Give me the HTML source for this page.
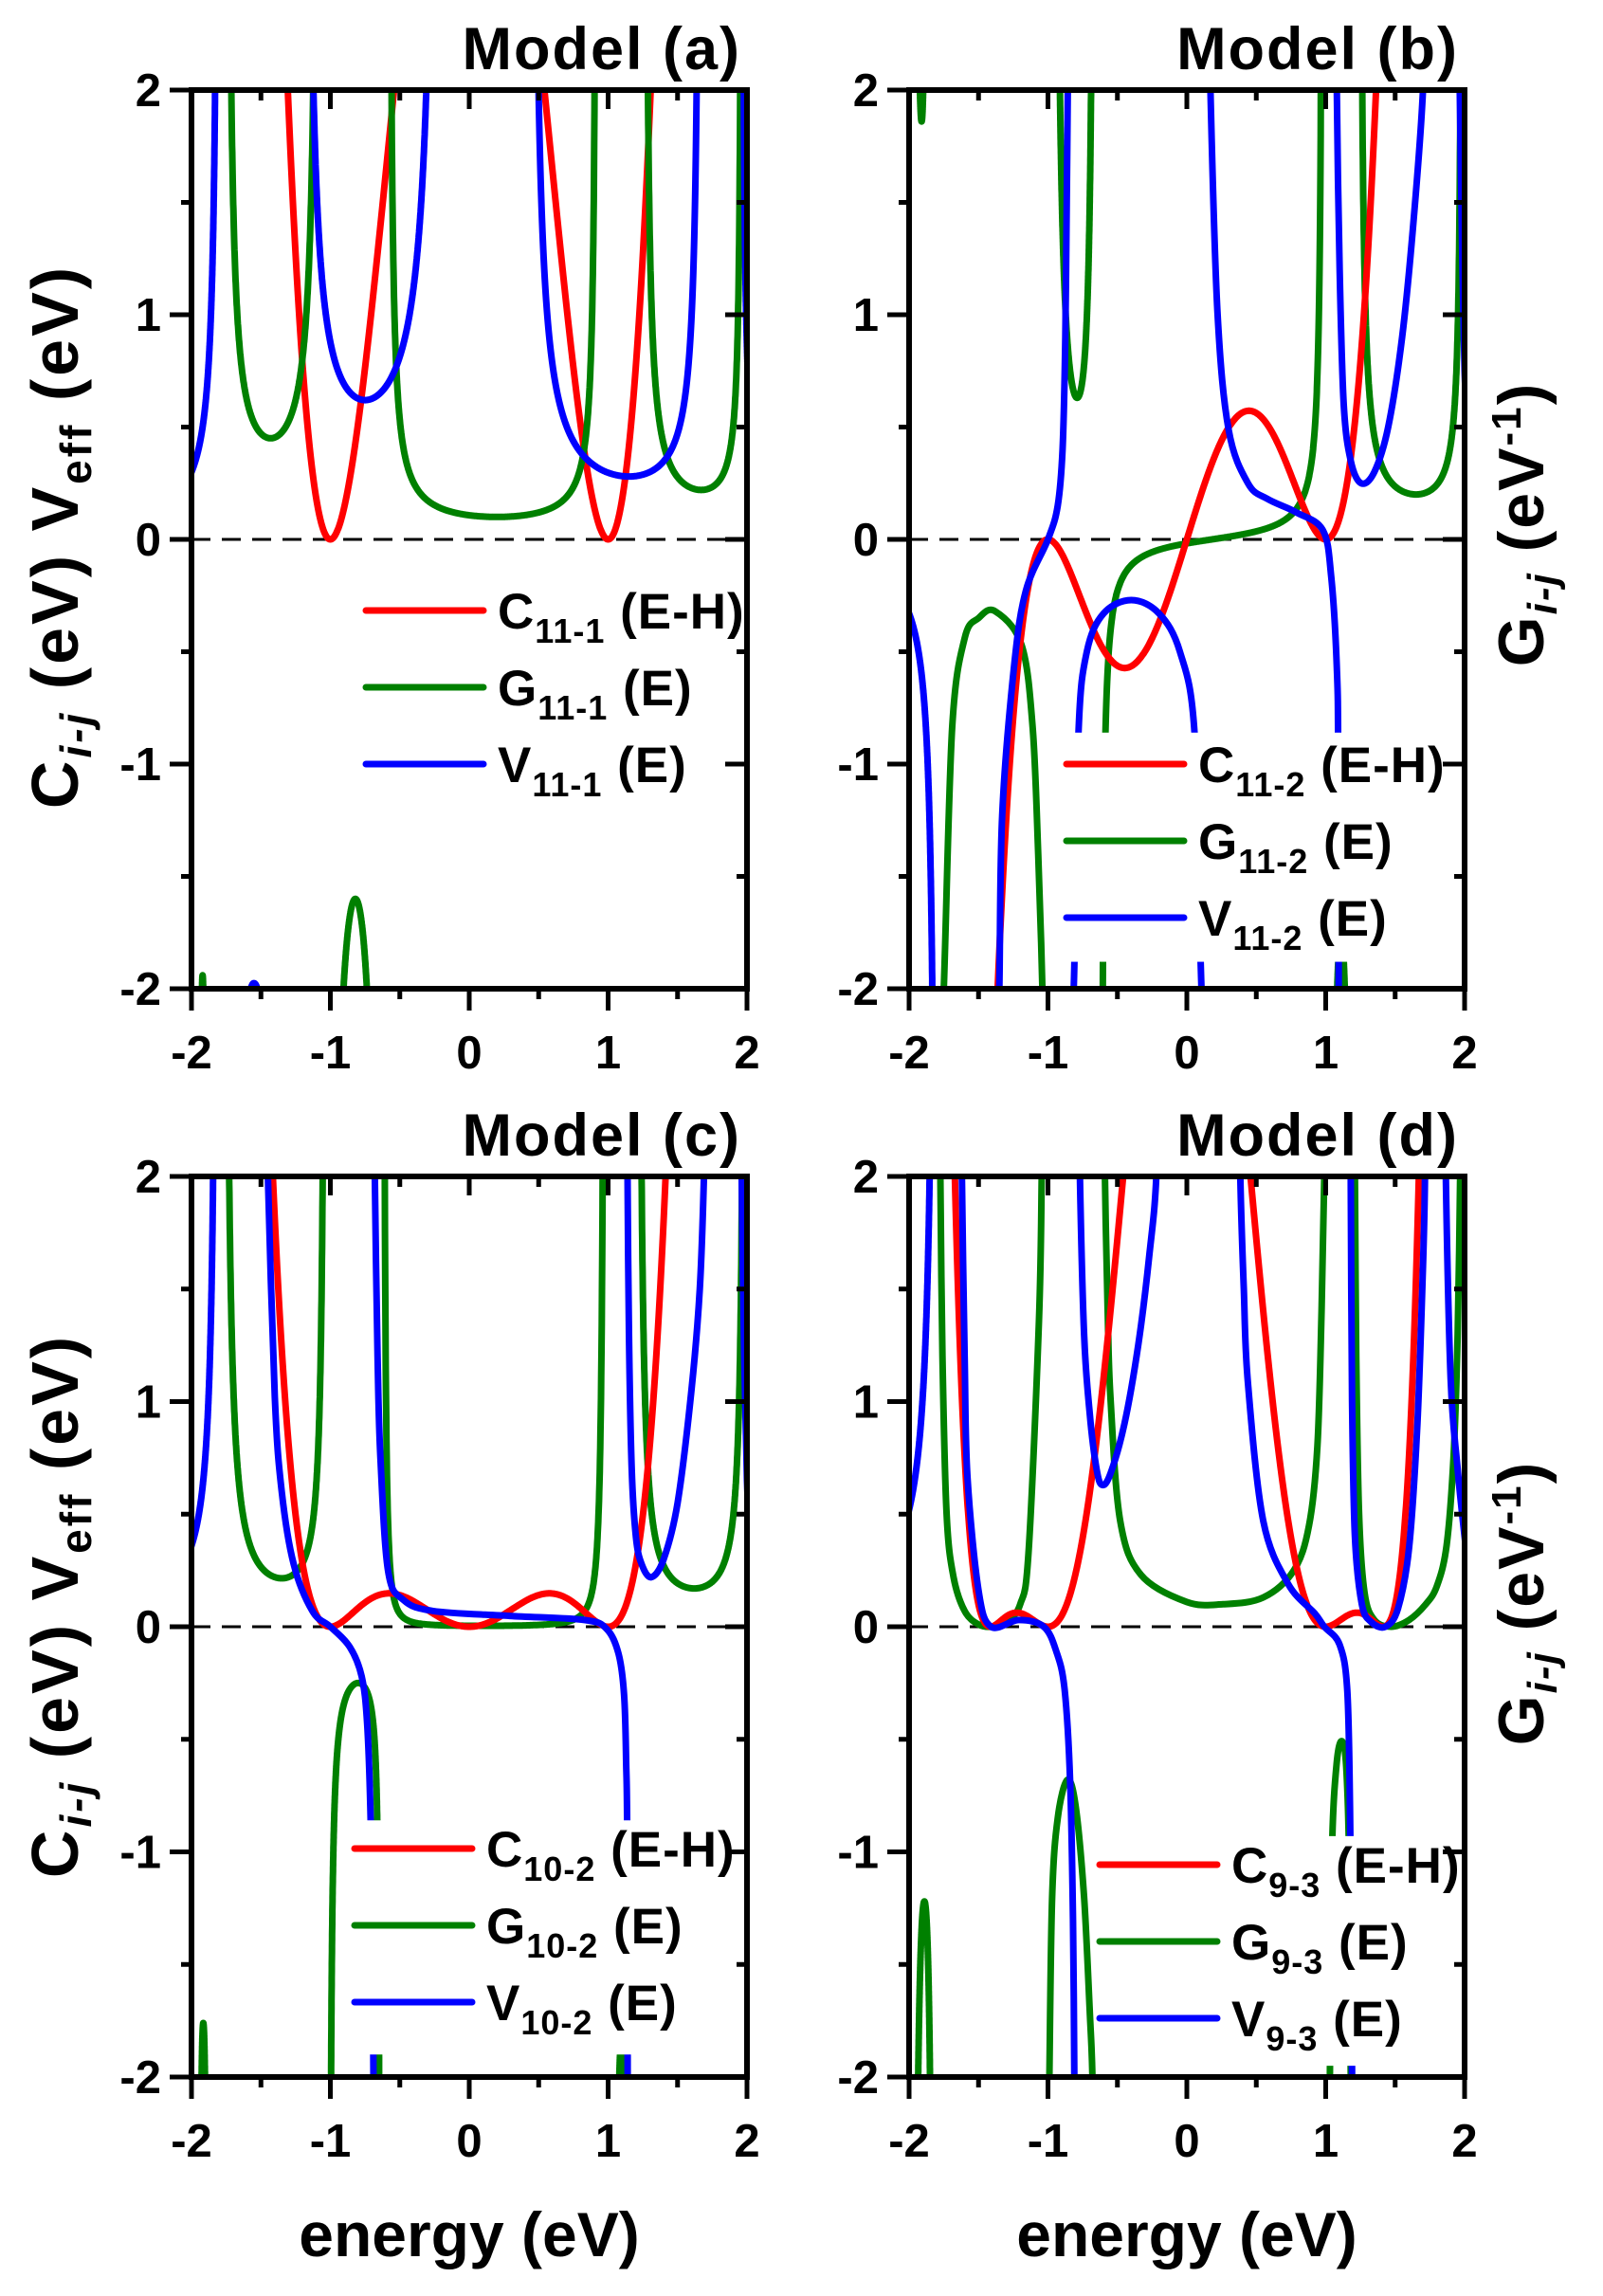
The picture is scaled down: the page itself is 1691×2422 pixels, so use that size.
<!DOCTYPE html>
<html><head><meta charset="utf-8"><style>
html,body{margin:0;padding:0;background:#fff}
svg{display:block}
text{font-family:"Liberation Sans",Arial,sans-serif;font-weight:bold;fill:#000}
</style></head><body>
<svg id="s" width="1691" height="2422" viewBox="0 0 1691 2422" xmlns="http://www.w3.org/2000/svg">
<rect width="1691" height="2422" fill="#fff"/>
</svg>
<script>
const S=document.getElementById('s');const NS='http://www.w3.org/2000/svg';
function el(t,a,p){const e=document.createElementNS(NS,t);for(const k in a)e.setAttribute(k,a[k]);(p||S).appendChild(e);return e;}
function clamp(y){return Math.max(-3,Math.min(3,y));}
function seg(p1,p2,m,x0,n){n=n||1;const a=Math.pow(x0-p1,n+1),b=Math.pow(p2-x0,n+1);const pts=[];const N=900;
 for(let i=1;i<N;i++){const t=i/N;const x=p1+(p2-p1)*t;const y=m*(a/Math.pow(x-p1,n)+b/Math.pow(p2-x,n))/(p2-p1);pts.push([x,clamp(y)]);}return {pts:pts};}
function edgeL(p,v){const pts=[];for(let i=0;i<=600;i++){const x=-2.05+(p+2.05)*i/600;if(x>=p)break;pts.push([x,clamp(v*(p+2)/(p-x))]);}return {pts:pts};}
function edgeR(p,v){const pts=[];for(let i=1;i<=600;i++){const x=p+(2.05-p)*i/600;pts.push([x,clamp(v*(2-p)/(x-p))]);}return {pts:pts};}
function fn(f,a,b){const pts=[];a=a===undefined?-2.05:a;b=b===undefined?2.05:b;for(let i=0;i<=1200;i++){const x=a+(b-a)*i/1200;pts.push([x,clamp(f(x))]);}return {pts:pts};}
function sp(arr){return {spline:arr};}
const COL={r:'#ff0000',g:'#008000',b:'#0000ff'};
function panel(P){
 const L=P.L,R=P.R,T=P.T,B=P.B;const X=x=>L+(x+2)/4*(R-L),Y=y=>T+(2-y)/4*(B-T);
 const id='c'+P.id;const cp=el('clipPath',{id:id});el('rect',{x:L,y:T,width:R-L,height:B-T},cp);
 const g=el('g',{'clip-path':'url(#'+id+')'});
 el('line',{x1:L,y1:Y(0),x2:R,y2:Y(0),stroke:'#000','stroke-width':3,'stroke-dasharray':'20,12'},g);
 for(const c of P.curves){let d='';
  if(c.pts){d=c.pts.map((p,i)=>(i?'L':'M')+X(p[0]).toFixed(1)+' '+Y(p[1]).toFixed(1)).join('');}
  else{const q=c.spline.map(p=>[X(p[0]),Y(p[1])]);d='M'+q[0][0]+' '+q[0][1];
   for(let i=0;i<q.length-1;i++){const p0=q[Math.max(0,i-1)],p1=q[i],p2=q[i+1],p3=q[Math.min(q.length-1,i+2)];
    d+='C'+(p1[0]+(p2[0]-p0[0])/6).toFixed(1)+' '+(p1[1]+(p2[1]-p0[1])/6).toFixed(1)+' '+(p2[0]-(p3[0]-p1[0])/6).toFixed(1)+' '+(p2[1]-(p3[1]-p1[1])/6).toFixed(1)+' '+p2[0].toFixed(1)+' '+p2[1].toFixed(1);}}
  el('path',{d:d,fill:'none',stroke:COL[c.c],'stroke-width':7,'stroke-linejoin':'round'},g);}
 const lg=P.leg;
 el('rect',{x:X(lg.box[0]),y:Y(lg.box[2]),width:X(lg.box[1])-X(lg.box[0]),height:Y(lg.box[3])-Y(lg.box[2]),fill:'#fff'},g);
 el('rect',{x:L,y:T,width:R-L,height:B-T,fill:'none',stroke:'#000','stroke-width':6});
 for(let k=0;k<=8;k++){const v=-2+k*0.5;const maj=k%2==0;const xx=X(v),yy=Y(v);
  el('line',{x1:xx,y1:B,x2:xx,y2:B+(maj?23:11),stroke:'#000','stroke-width':5});
  el('line',{x1:xx,y1:T,x2:xx,y2:T+(maj?20:11),stroke:'#000','stroke-width':5});
  el('line',{x1:L,y1:yy,x2:L-(maj?23:11),y2:yy,stroke:'#000','stroke-width':5});
  el('line',{x1:R,y1:yy,x2:R-(maj?23:11),y2:yy,stroke:'#000','stroke-width':5});
  if(maj){const s=String(v);
   const tx=el('text',{x:xx,y:B+84,'font-size':49,'text-anchor':'middle'});tx.textContent=s;
   const ty=el('text',{x:L-32,y:yy+17,'font-size':49,'text-anchor':'end'});ty.textContent=s;}}
 const tt=el('text',{x:R-6,y:T-22,'font-size':63,'text-anchor':'end','letter-spacing':2});tt.textContent=P.title;
 const names=[['C',' (E-H)','r'],['G',' (E)','g'],['V',' (E)','b']];
 for(let i=0;i<3;i++){const yy=lg.y0+i*81;
  el('line',{x1:lg.x0,y1:yy,x2:lg.x0+124,y2:yy,stroke:COL[names[i][2]],'stroke-width':7,'stroke-linecap':'round'});
  const t=el('text',{x:lg.x0+139,y:yy+19,'font-size':53,'letter-spacing':1});
  const a=el('tspan',{},t);a.textContent=names[i][0];
  const b=el('tspan',{dy:15,'font-size':36},t);b.textContent=P.sub;
  const c=el('tspan',{dy:-15},t);c.textContent=names[i][1];}
}
function ylabelL(cy){const t=el('text',{transform:'translate(82,'+cy+') rotate(-90)','font-size':70,'text-anchor':'middle','letter-spacing':3});
 let a=el('tspan',{},t);a.textContent='C';a=el('tspan',{dy:14,'font-size':46,'font-style':'italic'},t);a.textContent='i-j';
 a=el('tspan',{dy:-14},t);a.textContent=' (eV) V';a=el('tspan',{dy:14,'font-size':46},t);a.textContent='eff';
 a=el('tspan',{dy:-14},t);a.textContent=' (eV)';}
function ylabelR(cy){const t=el('text',{transform:'translate(1628,'+cy+') rotate(-90)','font-size':68,'text-anchor':'middle','letter-spacing':2});
 let a=el('tspan',{},t);a.textContent='G';a=el('tspan',{dy:14,'font-size':44,'font-style':'italic'},t);a.textContent='i-j';
 a=el('tspan',{dy:-14},t);a.textContent=' (eV';a=el('tspan',{dy:-24,'font-size':44},t);a.textContent='-1';
 a=el('tspan',{dy:24},t);a.textContent=')';}

const A={id:'a',L:202,R:788,T:95,B:1043,title:'Model (a)',sub:'11-1',
 leg:{x0:386,y0:644,box:[-0.8,1.95,-0.2,-1.3]},
 curves:[
 Object.assign(fn(x=>4*Math.pow(x*x-1,2)),{c:'r'}),
 Object.assign(seg(-1.955,-1.885,-1.94,-1.92,1.5),{c:'g'}),
 Object.assign(seg(-1.75,-1.08,0.45,-1.43,1),{c:'g'}),
 Object.assign(seg(-1.08,-0.58,-1.6,-0.82,1.5),{c:'g'}),
 Object.assign(seg(-0.58,0.92,0.1,0.2,1),{c:'g'}),
 Object.assign(seg(1.26,1.965,0.22,1.67,1),{c:'g'}),
 Object.assign(edgeL(-1.8,0.3),{c:'b'}),
 Object.assign(seg(-1.8,-1.19,-1.975,-1.55,1.5),{c:'b'}),
 Object.assign(seg(-1.19,-0.21,0.62,-0.75,1),{c:'b'}),
 Object.assign(seg(0.44,1.67,0.28,1.15,1),{c:'b'}),
 Object.assign(edgeR(1.96,0.85),{c:'b'})
 ]};
const Bp={id:'b',L:959,R:1545,T:95,B:1043,title:'Model (b)',sub:'11-2',
 leg:{x0:1125,y0:806,box:[-0.85,1.98,-0.86,-1.88]},
 curves:[
 Object.assign(seg(-1.96,-1.87,1.86,-1.91,1),{c:'g'}),
 Object.assign(sp([[-1.79,-2.6],[-1.75,-2],[-1.69,-0.84],[-1.6,-0.44],[-1.5,-0.35],[-1.38,-0.32],[-1.19,-0.47],[-1.11,-0.84],[-1.07,-1.4],[-1.04,-2],[-1.02,-2.6]]),{c:'g'}),
 Object.assign(seg(-0.975,-0.65,0.63,-0.79,1.5),{c:'g'}),
 Object.assign(fn(x=>0.03*(1/(0.98-x)-1/(x+0.62)),-0.6195,0.9795),{c:'g'}),
 Object.assign(seg(0.98,1.24,-1.75,1.11,2),{c:'g'}),
 Object.assign(seg(1.24,1.985,0.2,1.65,1),{c:'g'}),
 Object.assign(fn(x=>2*x*Math.pow(x*x-1,2)),{c:'r'}),
 Object.assign(edgeL(-1.8,-0.33),{c:'b'}),
 Object.assign(sp([[-1.37,-2.6],[-1.35,-2],[-1.33,-1.23],[-1.245,-0.57],[-1.16,-0.23],[-1.0,0],[-0.93,0.15],[-0.895,0.4],[-0.875,0.9],[-0.865,1.5],[-0.857,2],[-0.852,2.6]]),{c:'b'}),
 Object.assign(sp([[-0.83,-2.2],[-0.81,-1.9],[-0.78,-0.86],[-0.72,-0.5],[-0.6,-0.33],[-0.4,-0.27],[-0.2,-0.33],[-0.05,-0.5],[0.055,-0.86],[0.1,-1.9],[0.12,-2.2]]),{c:'b'}),
 Object.assign(sp([[0.16,2.6],[0.17,2],[0.22,1.02],[0.3,0.49],[0.44,0.25],[0.58,0.18],[0.79,0.12],[0.98,0.04],[1.04,-0.17],[1.08,-0.57],[1.09,-1],[1.095,-2.6]]),{c:'b'}),
 Object.assign(sp([[1.075,2.6],[1.08,2],[1.1,1.2],[1.13,0.6],[1.18,0.35],[1.255,0.25],[1.35,0.3],[1.45,0.5],[1.55,0.9],[1.63,1.4],[1.70,2],[1.72,2.6]]),{c:'b'}),
 Object.assign(sp([[1.955,2.6],[1.965,2],[1.985,1.2],[2.0,0.75],[2.02,0.5]]),{c:'b'})
 ]};
const C={id:'c',L:202,R:788,T:1241,B:2191,title:'Model (c)',sub:'10-2',
 leg:{x0:374,y0:1950,box:[-0.85,1.98,-0.86,-1.9]},
 curves:[
 Object.assign(seg(-1.95,-1.88,-1.76,-1.915,1),{c:'g'}),
 Object.assign(seg(-1.77,-1.03,0.215,-1.35,1.2),{c:'g'}),
 Object.assign(seg(-1.01,-0.64,-0.25,-0.8,1),{c:'g'}),
 Object.assign(seg(-0.63,0.99,0.004,0.1,2),{c:'g'}),
 Object.assign(seg(0.99,1.2,-1.8,1.1,2),{c:'g'}),
 Object.assign(seg(1.21,1.99,0.17,1.62,1.2),{c:'g'}),
 Object.assign(fn(x=>x*x*Math.pow(x*x-1,2)),{c:'r'}),
 Object.assign(edgeL(-1.81,0.36),{c:'b'}),
 Object.assign(sp([[-1.47,2.6],[-1.45,2],[-1.40,1.02],[-1.35,0.6],[-1.265,0.28],[-1.13,0.07],[-1.0,0],[-0.86,-0.09],[-0.775,-0.22],[-0.735,-0.43],[-0.71,-0.86],[-0.695,-1.5],[-0.685,-2.6]]),{c:'b'}),
 Object.assign(sp([[-0.69,2.6],[-0.68,2],[-0.66,1.2],[-0.64,0.76],[-0.585,0.25],[-0.476,0.12],[-0.26,0.07],[0.29,0.048],[0.83,0.03],[0.99,-0.01],[1.075,-0.12],[1.115,-0.3],[1.13,-0.6],[1.138,-1],[1.142,-2.6]]),{c:'b'}),
 Object.assign(sp([[1.135,2.6],[1.14,2],[1.15,1.3],[1.17,0.7],[1.2,0.4],[1.24,0.28],[1.31,0.22],[1.4,0.3],[1.5,0.55],[1.6,1.05],[1.66,1.5],[1.69,2],[1.71,2.6]]),{c:'b'}),
 Object.assign(sp([[1.955,2.6],[1.962,2],[1.98,1.2],[2,0.65],[2.02,0.4]]),{c:'b'})
 ]};
const D={id:'d',L:959,R:1545,T:1241,B:2191,title:'Model (d)',sub:'9-3',
 leg:{x0:1160,y0:1967,box:[-0.65,1.98,-0.93,-1.95]},
 curves:[
 Object.assign(seg(-1.985,-1.81,-1.22,-1.89,1.5),{c:'g'}),
 Object.assign(sp([[-1.785,2.6],[-1.775,2],[-1.76,1.2],[-1.73,0.5],[-1.68,0.22],[-1.6,0.07],[-1.5,0.01],[-1.4,0.0],[-1.3,0.02],[-1.2,0.1],[-1.14,0.33],[-1.065,1.36],[-1.045,2],[-1.035,2.6]]),{c:'g'}),
 Object.assign(sp([[-1.0,-2.6],[-0.99,-2],[-0.97,-1.2],[-0.93,-0.85],[-0.86,-0.68],[-0.8,-0.8],[-0.74,-1.2],[-0.7,-1.7],[-0.68,-2],[-0.67,-2.6]]),{c:'g'}),
 Object.assign(sp([[-0.6,2.6],[-0.59,2],[-0.57,1.4],[-0.55,1.02],[-0.48,0.47],[-0.33,0.23],[0,0.11],[0.26,0.1],[0.55,0.13],[0.77,0.25],[0.88,0.45],[0.94,0.8],[0.97,1.4],[0.99,2],[1.0,2.6]]),{c:'g'}),
 Object.assign(sp([[1.02,-2.6],[1.03,-2],[1.045,-1.0],[1.08,-0.6],[1.12,-0.51],[1.15,-0.65],[1.17,-1.1],[1.18,-2],[1.19,-2.6]]),{c:'g'}),
 Object.assign(sp([[1.2,2.6],[1.21,2],[1.22,1.2],[1.24,0.5],[1.28,0.15],[1.35,0.03],[1.47,0],[1.6,0.03],[1.72,0.1],[1.8,0.18],[1.87,0.36],[1.92,0.75],[1.95,1.3],[1.968,2],[1.975,2.6]]),{c:'g'}),
 Object.assign(fn(x=>Math.pow(x*x-1,2)*Math.pow(x*x-2,2)),{c:'r'}),
 Object.assign(edgeL(-1.8,0.52),{c:'b'}),
 Object.assign(sp([[-1.63,2.6],[-1.62,2],[-1.6,1.2],[-1.58,0.67],[-1.5,0.16],[-1.41,0],[-1.21,0.03],[-1.03,0],[-0.94,-0.11],[-0.88,-0.28],[-0.84,-0.69],[-0.82,-1.3],[-0.81,-2],[-0.805,-2.6]]),{c:'b'}),
 Object.assign(sp([[-0.78,2.6],[-0.77,2],[-0.74,1.3],[-0.7,0.95],[-0.65,0.7],[-0.61,0.63],[-0.55,0.68],[-0.45,0.9],[-0.35,1.25],[-0.27,1.65],[-0.22,2],[-0.2,2.6]]),{c:'b'}),
 Object.assign(sp([[0.375,2.6],[0.385,2],[0.41,1.5],[0.44,1.08],[0.55,0.47],[0.73,0.19],[0.92,0.06],[0.99,0],[1.1,-0.08],[1.155,-0.28],[1.175,-0.8],[1.185,-1.5],[1.19,-2],[1.195,-2.6]]),{c:'b'}),
 Object.assign(sp([[1.175,2.6],[1.18,2],[1.19,1.0],[1.21,0.4],[1.26,0.1],[1.33,0.02],[1.43,0],[1.52,0.08],[1.6,0.35],[1.66,0.9],[1.7,1.6],[1.715,2],[1.72,2.6]]),{c:'b'}),
 Object.assign(sp([[1.86,2.6],[1.865,2],[1.9,1.1],[1.95,0.7],[2,0.4],[2.02,0.3]]),{c:'b'})
 ]};
[A,Bp,C,D].forEach(panel);
ylabelL(566);ylabelL(1694);ylabelR(553);ylabelR(1691);
let t=el('text',{x:495,y:2380,'font-size':66,'text-anchor':'middle'});t.textContent='energy (eV)';
t=el('text',{x:1252,y:2380,'font-size':66,'text-anchor':'middle'});t.textContent='energy (eV)';
</script>
</body></html>
